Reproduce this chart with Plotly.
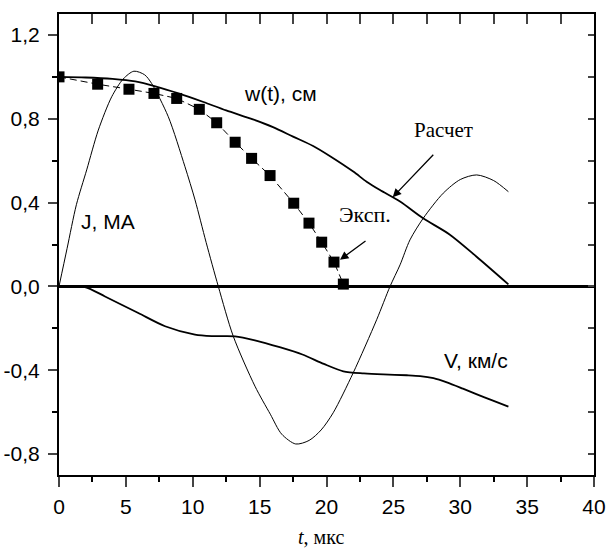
import plotly.graph_objects as go

# ---- data ----
t_calc = [0, 2, 4, 5.7, 7.2, 9, 10.8, 12.5, 14.5, 16, 17.5, 19, 20.3, 22, 23, 24, 25.5, 27.2, 29.2, 31.2, 33.6]
w_calc = [1.0, 0.997, 0.99, 0.978, 0.955, 0.92, 0.88, 0.84, 0.797, 0.76, 0.715, 0.67, 0.62, 0.548, 0.5, 0.46, 0.405, 0.326, 0.248, 0.143, 0.01]

t_exp = [0, 2.89, 5.23, 7.1, 8.8, 10.49, 11.79, 13.17, 14.4, 15.78, 17.55, 18.69, 19.64, 20.56, 21.26]
w_exp = [1.0, 0.965, 0.941, 0.921, 0.897, 0.845, 0.781, 0.688, 0.611, 0.529, 0.397, 0.302, 0.211, 0.116, 0.011]

t_J = [0, 0.6, 1.3, 2.07, 2.94, 3.94, 4.8, 5.6, 6.4, 6.93, 8.17, 9.42, 10.17, 11.0, 11.91, 13.03,
       14.65, 15.8, 16.65, 17.7, 18.7, 19.6, 20.5, 22.0, 23.75, 24.75, 25.5, 26.24, 27.24, 28.73,
       30.0, 31.23, 32.5, 33.6]
J = [0, 0.18, 0.39, 0.556, 0.746, 0.905, 0.99, 1.027, 1.01, 0.968, 0.81, 0.571, 0.413, 0.21, 0.0, -0.238,
     -0.476, -0.61, -0.705, -0.752, -0.735, -0.685, -0.603, -0.412, -0.159, 0.0, 0.103, 0.222, 0.326, 0.445,
     0.51, 0.532, 0.505, 0.452]

t_V = [0, 1.94, 3.44, 5.93, 7.93, 10.17, 11.5, 13.16, 14.65, 16.5, 18.2, 19.8, 21.26, 22.8, 24.25, 26,
       27.0, 28.0, 29.0, 30.2, 31.2, 32.4, 33.6]
V = [0, -0.003, -0.048, -0.127, -0.19, -0.23, -0.237, -0.238, -0.257, -0.29, -0.325, -0.37, -0.405, -0.415,
     -0.42, -0.424, -0.428, -0.438, -0.458, -0.488, -0.514, -0.544, -0.574]

x_ticks = [0, 5, 10, 15, 20, 25, 30, 35, 40]
y_ticks = [-0.8, -0.4, 0.0, 0.4, 0.8, 1.2]
y_tick_labels = ["-0,8", "-0,4", "0,0", "0,4", "0,8", "1,2"]

SANS = "Liberation Sans, Arial, sans-serif"
SERIF = "Liberation Serif, Times New Roman, serif"

fig = go.Figure()
fig.add_trace(go.Scatter(x=t_J, y=J, mode="lines", line=dict(color="black", width=1, shape="spline", smoothing=0.8)))
fig.add_trace(go.Scatter(x=t_V, y=V, mode="lines", line=dict(color="black", width=1.8, shape="spline", smoothing=0.8)))
fig.add_trace(go.Scatter(x=t_calc, y=w_calc, mode="lines", line=dict(color="black", width=1.8, shape="spline", smoothing=0.8)))
fig.add_trace(go.Scatter(x=t_exp, y=w_exp, mode="lines+markers",
                         line=dict(color="black", width=1, dash="7px,4px"),
                         marker=dict(symbol="square", size=11, color="black")))
# mirror axes (top / right with inward ticks)
fig.add_trace(go.Scatter(x=[], y=[], xaxis="x2", yaxis="y2", showlegend=False))

fig.update_layout(
    width=608, height=551,
    margin=dict(l=59, r=14, t=14, b=76),
    paper_bgcolor="white", plot_bgcolor="white",
    showlegend=False,
    font=dict(family=SANS, size=21, color="black"),
    xaxis=dict(range=[0, 40], tickvals=x_ticks, ticks="outside", ticklen=10, tickwidth=2, automargin=False,
               showline=True, linewidth=2, linecolor="black", showgrid=False, zeroline=False,
               minor=dict(dtick=2.5, tick0=0, ticks="outside", ticklen=5, tickwidth=2, tickcolor="black", showgrid=False),
               tickfont=dict(family=SANS, size=21), ticklabelstandoff=2),
    yaxis=dict(range=[-0.9, 1.3], tickvals=y_ticks, ticktext=y_tick_labels, ticks="outside", ticklen=9, tickwidth=2,
               showline=True, linewidth=2, linecolor="black", showgrid=False, automargin=False,
               zeroline=True, zerolinewidth=3, zerolinecolor="black",
               minor=dict(dtick=0.2, tick0=0, ticks="outside", ticklen=5, tickwidth=2, tickcolor="black", showgrid=False),
               tickfont=dict(family=SANS, size=21), ticklabelstandoff=4),
    xaxis2=dict(range=[0, 40], overlaying="x", side="top", dtick=2.5, tick0=0, ticks="inside", ticklen=10,
                tickwidth=2, showticklabels=False, showline=True, linewidth=2, linecolor="black",
                showgrid=False, zeroline=False, automargin=False),
    yaxis2=dict(range=[-0.9, 1.3], overlaying="y", side="right", dtick=0.2, tick0=0, ticks="inside", ticklen=6,
                tickwidth=2, showticklabels=False, showline=True, linewidth=2, linecolor="black",
                showgrid=False, zeroline=False, automargin=False),
)

ann = [
    dict(x=16.58, y=0.922, text="w(t), см", font=dict(family=SANS, size=21), xanchor="center", yanchor="middle"),
    dict(x=26.37, y=0.746, text="Расчет", font=dict(family=SERIF, size=21), xanchor="left", yanchor="middle"),
    dict(x=20.79, y=0.341, text="Эксп.", font=dict(family=SERIF, size=22), xanchor="left", yanchor="middle"),
    dict(x=1.5, y=0.31, text="J, МА", font=dict(family=SANS, size=21), xanchor="left", yanchor="middle"),
    dict(x=28.61, y=-0.354, text="V, км/с", font=dict(family=SANS, size=21), xanchor="left", yanchor="middle"),
]
for a in ann:
    fig.add_annotation(xref="x", yref="y", showarrow=False, **a)

# x-axis title
fig.add_annotation(xref="paper", yref="paper", x=0.49, y=-0.135, showarrow=False,
                   text="<i>t</i>, мкс", font=dict(family=SERIF, size=20), xanchor="center", yanchor="middle")

arrows = [
    dict(x=24.95, y=0.4257, ax=42, ay=-44),
    dict(x=21.01, y=0.127, ax=27, ay=-20),
]
for a in arrows:
    fig.add_annotation(xref="x", yref="y", text="", showarrow=True, arrowhead=2, arrowsize=1.3,
                       arrowwidth=1.3, arrowcolor="black", standoff=0, **a)

fig.write_html("out.html", config={"displayModeBar": False},
               post_script="document.body.style.margin='0';document.body.style.overflow='hidden';")
